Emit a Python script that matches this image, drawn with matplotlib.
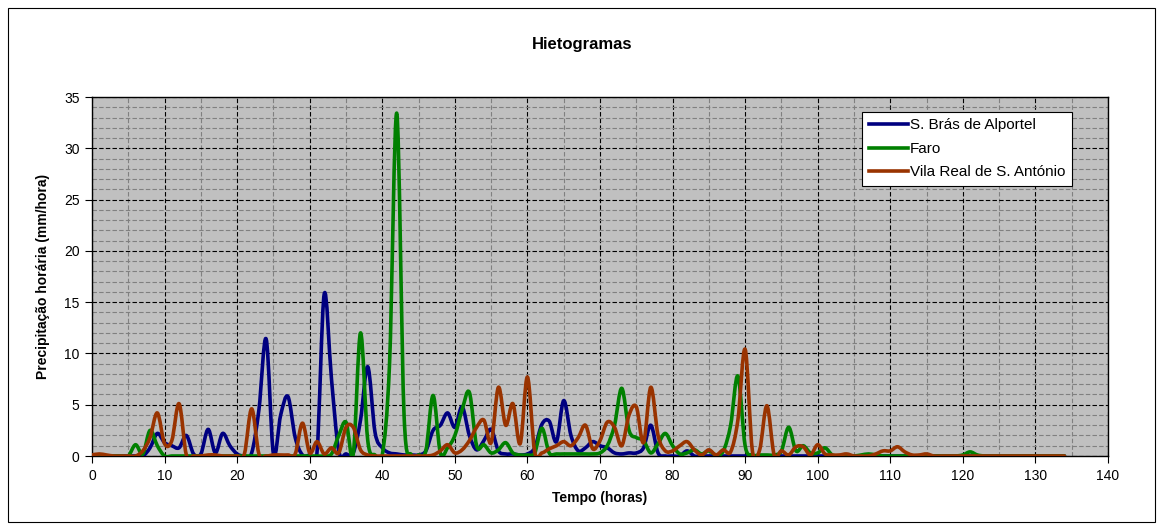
import numpy as np
import matplotlib
matplotlib.use("Agg")
import matplotlib.pyplot as plt
from matplotlib.path import Path
from matplotlib.patches import PathPatch, Rectangle
from matplotlib.lines import Line2D
from matplotlib.ticker import MultipleLocator

plt.rcParams["font.family"] = ["Liberation Sans", "DejaVu Sans"]

# ─── Dados (precipitação horária, mm/hora) ───────────────────────────────────
horas = list(range(0, 135))

sbras = [0, 0, 0, 0, 0, 0, 0, 0, 0.8, 2.2,
         1.3, 1.0, 0.8, 2.0, 0.2, 0.2, 2.6, 0.3, 2.2, 1.0,
         0.2, 0, 0.3, 4.5, 11.4, 0.2, 4.0, 5.8, 1.8, 0.1,
         0.1, 0.3, 15.8, 7.5, 0.5, 0.2, 0.3, 3.5, 8.7, 2.3,
         0.8, 0.3, 0.2, 0.1, 0.1, 0.1, 0.5, 2.5, 3.0, 4.2,
         2.8, 4.8, 2.0, 0.6, 1.5, 2.6, 0.5, 0.2, 0.2, 0.1,
         0.2, 0.8, 3.1, 3.4, 1.4, 5.4, 2.0, 0.5, 0.8, 1.4,
         1.0, 0.8, 0.3, 0.2, 0.3, 0.3, 0.8, 3.0, 0.3, 0,
         0, 0, 0.5, 0, 0, 0, 0, 0, 0, 0,
         0, 0, 0, 0, 0, 0, 0, 0, 0, 0,
         0, 0, 0, 0, 0, 0, 0, 0, 0, 0,
         0, 0, 0, 0, 0, 0, 0, 0, 0, 0,
         0, 0, 0, 0, 0, 0, 0, 0, 0, 0,
         0, 0, 0, 0, 0]

faro = [0, 0, 0, 0, 0, 0, 1.1, 0.2, 2.5, 1.0,
        0, 0, 0, 0, 0, 0, 0, 0, 0, 0,
        0, 0, 0, 0, 0, 0, 0, 0, 0, 0,
        0, 0, 0, 0.2, 2.0, 3.3, 0.2, 12.0, 1.5, 0.1,
        0.1, 9.0, 33.4, 4.0, 0.1, 0.1, 0.5, 5.9, 0.3, 0.8,
        2.0, 4.5, 6.2, 1.0, 1.1, 0.3, 0.6, 1.3, 0.3, 0.1,
        0.1, 0.3, 2.7, 0.3, 0.2, 0.2, 0.2, 0.2, 0.2, 0.2,
        0.3, 1.0, 3.0, 6.6, 2.5, 1.8, 1.5, 0.3, 1.2, 2.2,
        1.0, 0.2, 0.3, 0.6, 0.2, 0.5, 0.1, 0.5, 3.0, 7.8,
        1.0, 0.1, 0.1, 0.1, 0.1, 0.5, 2.8, 0.5, 1.0, 0.3,
        0.3, 0.8, 0.1, 0, 0, 0, 0.1, 0.2, 0.1, 0,
        0, 0, 0, 0, 0, 0, 0, 0, 0, 0,
        0.1, 0.4, 0.1, 0, 0, 0, 0, 0, 0, 0,
        0, 0, 0, 0, 0]

vrsa = [0.1, 0.2, 0.1, 0, 0, 0, 0, 0.5, 1.8, 4.2,
        1.2, 1.5, 5.1, 0.1, 0, 0, 0.1, 0.1, 0, 0,
        0, 0.2, 4.6, 0.2, 0, 0.1, 0.1, 0.1, 0.2, 3.2,
        0.3, 1.4, 0.2, 0.8, 0.3, 2.8, 2.8, 0.6, 0.1, 0,
        0, 0, 0, 0, 0, 0, 0, 0.1, 0.5, 1.1,
        0.3, 0.6, 1.5, 2.8, 3.5, 1.3, 6.7, 3.0, 5.1, 1.2,
        7.7, 0.4, 0.3, 0.7, 1.0, 1.4, 1.0, 1.8, 3.0, 0.7,
        1.5, 3.3, 2.8, 1.0, 4.0, 4.8, 1.3, 6.7, 2.0, 0.5,
        0.5, 1.0, 1.4, 0.6, 0.1, 0.6, 0.1, 0.6, 0.4, 3.5,
        10.4, 0.5, 0.6, 4.9, 0.1, 0.5, 0.1, 0.9, 0.9, 0.1,
        1.1, 0.2, 0.1, 0.1, 0.2, 0, 0, 0, 0.2, 0.5,
        0.5, 0.9, 0.4, 0.1, 0.1, 0.2, 0, 0, 0, 0,
        0, 0, 0, 0, 0, 0, 0, 0, 0, 0,
        0, 0, 0, 0, 0]

series = [
    ("S. Brás de Alportel", sbras, "#000080"),
    ("Faro", faro, "#008000"),
    ("Vila Real de S. António", vrsa, "#993300"),
]


# ─── Linha suavizada (estilo Excel) ──────────────────────────────────────────
def caminho_suave(x, y):
    p = np.column_stack([x, y]).astype(float)
    n = len(p)
    verts = [p[0]]
    codes = [Path.MOVETO]
    for i in range(n - 1):
        p0 = p[max(i - 1, 0)]
        p1 = p[i]
        p2 = p[i + 1]
        p3 = p[min(i + 2, n - 1)]
        verts += [p1 + (p2 - p0) / 6.0, p2 - (p3 - p1) / 6.0, p2]
        codes += [Path.CURVE4] * 3
    return Path(verts, codes)


fig = plt.figure(figsize=(11.63, 5.30), dpi=100)
ax = fig.add_axes([92 / 1163, 1 - 456 / 530, 1016 / 1163, 359 / 530])

# moldura exterior
fig.patches.append(Rectangle((8 / 1163, 8 / 530), 1147 / 1163, 514 / 530,
                             transform=fig.transFigure, fill=False,
                             edgecolor="black", linewidth=0.8))

ax.set_facecolor("#C0C0C0")
ax.set_xlim(0, 140)
ax.set_ylim(0, 35)
ax.xaxis.set_major_locator(MultipleLocator(10))
ax.xaxis.set_minor_locator(MultipleLocator(5))
ax.yaxis.set_major_locator(MultipleLocator(5))
ax.yaxis.set_minor_locator(MultipleLocator(1))
ax.grid(which="minor", color="#808080", linestyle=(0, (4, 2)), linewidth=0.8)
ax.grid(which="major", color="black", linestyle=(0, (4, 2)), linewidth=0.8)
ax.set_axisbelow(True)
ax.tick_params(which="major", direction="out", length=5, width=0.8,
               labelsize=10, pad=4)
ax.tick_params(which="minor", length=0)
for s in ax.spines.values():
    s.set_color("black")
    s.set_linewidth(1.0)

handles = []
for nome, vals, cor in series:
    patch = PathPatch(caminho_suave(horas, vals), fill=False, edgecolor=cor,
                      linewidth=2.6, capstyle="round", joinstyle="round",
                      zorder=3)
    ax.add_patch(patch)
    handles.append(Line2D([], [], color=cor, linewidth=2.6, label=nome))

leg = ax.legend(handles=handles, loc="upper left",
                bbox_to_anchor=(0.758, 0.958), fontsize=11,
                handlelength=2.6, handletextpad=0.1, labelspacing=0.62,
                borderpad=0.42, borderaxespad=0, fancybox=False,
                framealpha=1, edgecolor="black", facecolor="white")
leg.get_frame().set_linewidth(0.8)

fig.text(582 / 1163, 1 - 45 / 530, "Hietogramas", ha="center", va="center",
         fontsize=12, fontweight="bold")
ax.set_xlabel("Tempo (horas)", fontsize=10, fontweight="bold", labelpad=6)
ax.set_ylabel("Precipitação horária (mm/hora)", fontsize=10,
              fontweight="bold", labelpad=10)

fig.savefig("out.png", dpi=100)
